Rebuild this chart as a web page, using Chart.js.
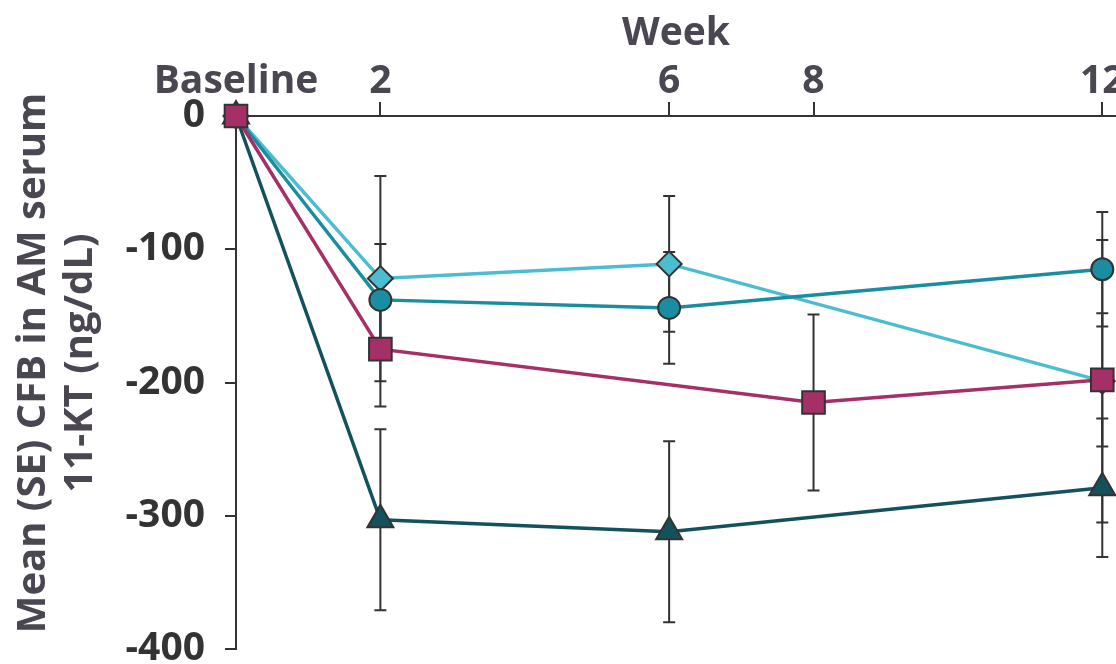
<!DOCTYPE html>
<html>
<head>
<meta charset="utf-8">
<script src="https://cdn.jsdelivr.net/npm/chart.js@4/dist/chart.umd.min.js"></script>
<style>
  html, body { margin: 0; padding: 0; background: #fff; }
  #wrap { width: 1116px; height: 664px; }
</style>
</head>
<body>
<div id="wrap"><canvas id="cfbChart" width="1116" height="664"></canvas></div>
<script>
// x positions (weeks) and their labels
const weekTicks = [0, 2, 6, 8, 12];
const weekLabels = { 0: "Baseline", 2: "2", 6: "6", 8: "8", 12: "12" };
const yTitleLines = ["Mean (SE) CFB in AM serum", "11-KT (ng/dL)"];

// mean change from baseline and standard error per group
const squareWeeks = [0, 2, 8, 12];
const squareMean = [0, -175, -215, -198];
const squareSE = [0, 43, 66, 50];

const circleWeeks = [0, 2, 6, 12];
const circleMean = [0, -138, -144, -115];
const circleSE = [0, 42, 42, 43];

const diamondWeeks = [0, 2, 6, 12];
const diamondMean = [0, -122, -111, -199];
const diamondSE = [0, 77, 51, 106];

const triangleWeeks = [0, 2, 6, 12];
const triangleMean = [0, -303, -312, -279];
const triangleSE = [0, 68, 68, 52];

const labelColor = "#4a4652";
const axisColor = "#333333";
const fontFamily = "'Open Sans', sans-serif";
const fontSize = 39;

const toPoints = (weeks, means) => weeks.map((w, i) => ({ x: w, y: means[i] }));

function series(weeks, means, se, color, style, radius) {
  return {
    data: toPoints(weeks, means),
    se: se,
    borderColor: color,
    backgroundColor: color,
    borderWidth: 3.5,
    pointStyle: style,
    pointRadius: radius,
    pointBackgroundColor: color,
    pointBorderColor: axisColor,
    pointBorderWidth: 2,
    tension: 0,
    clip: false
  };
}

// vertical SE whiskers, drawn under the lines and markers
const errorBarPlugin = {
  id: "errorBars",
  beforeDatasetsDraw(chart) {
    const { ctx, scales: { x, y } } = chart;
    ctx.save();
    ctx.strokeStyle = axisColor;
    ctx.lineWidth = 2;
    chart.data.datasets.forEach(ds => {
      ds.data.forEach((p, i) => {
        const se = ds.se[i];
        if (!se) return;
        const px = x.getPixelForValue(p.x);
        const top = y.getPixelForValue(p.y + se);
        const bot = y.getPixelForValue(p.y - se);
        ctx.beginPath();
        ctx.moveTo(px, top); ctx.lineTo(px, bot);
        ctx.moveTo(px - 6, top); ctx.lineTo(px + 6, top);
        ctx.moveTo(px - 6, bot); ctx.lineTo(px + 6, bot);
        ctx.stroke();
      });
    });
    ctx.restore();
  }
};

// two-line rotated y-axis title
const yTitlePlugin = {
  id: "yTitle",
  afterDraw(chart) {
    const ctx = chart.ctx;
    ctx.save();
    ctx.translate(0, 363);
    ctx.rotate(-Math.PI / 2);
    ctx.fillStyle = labelColor;
    ctx.font = "700 " + (fontSize + 1) + "px " + fontFamily;
    ctx.textAlign = "center";
    ctx.textBaseline = "middle";
    ctx.fillText(yTitleLines[0], 0, 34);
    ctx.fillText(yTitleLines[1], 0, 81);
    ctx.restore();
  }
};

new Chart(document.getElementById("cfbChart"), {
  type: "line",
  data: {
    datasets: [
      series(squareWeeks, squareMean, squareSE, "#a53067", "rect", 16),
      series(circleWeeks, circleMean, circleSE, "#1b8da1", "circle", 11),
      series(diamondWeeks, diamondMean, diamondSE, "#4cbdd1", "rectRot", 12.5),
      series(triangleWeeks, triangleMean, triangleSE, "#13525d", "triangle", 15)
    ]
  },
  options: {
    responsive: false,
    animation: false,
    layout: {
      autoPadding: false,
      padding: { top: 0, right: 0, bottom: 15, left: 0 }
    },
    plugins: {
      legend: { display: false },
      tooltip: { enabled: false }
    },
    scales: {
      x: {
        type: "linear",
        position: "top",
        min: 0,
        max: 12.19,
        afterBuildTicks: scale => {
          scale.ticks = weekTicks.map(v => ({ value: v }));
        },
        afterFit: scale => {
          scale.height = 116;
          scale.paddingLeft = 0;
          scale.paddingRight = 0;
        },
        ticks: {
          callback: v => weekLabels[v],
          color: labelColor,
          font: { family: fontFamily, size: fontSize, weight: "700" },
          padding: -3,
          maxRotation: 0,
          autoSkip: false
        },
        grid: {
          drawOnChartArea: false,
          tickLength: 14,
          color: axisColor,
          lineWidth: 2
        },
        border: { color: axisColor, width: 2 },
        title: {
          display: true,
          text: "Week",
          color: labelColor,
          font: { family: fontFamily, size: fontSize, weight: "700" },
          padding: { top: 10, bottom: 0 }
        }
      },
      y: {
        min: -400,
        max: 0,
        afterFit: scale => {
          scale.width = 236;
          scale.paddingTop = 0;
          scale.paddingBottom = 0;
        },
        ticks: {
          stepSize: 100,
          color: axisColor,
          font: { family: fontFamily, size: fontSize, weight: "700" },
          padding: 20
        },
        grid: {
          drawOnChartArea: false,
          tickLength: 11,
          color: axisColor,
          lineWidth: 2
        },
        border: { color: axisColor, width: 2 }
      }
    }
  },
  plugins: [errorBarPlugin, yTitlePlugin]
});
</script>
</body>
</html>
